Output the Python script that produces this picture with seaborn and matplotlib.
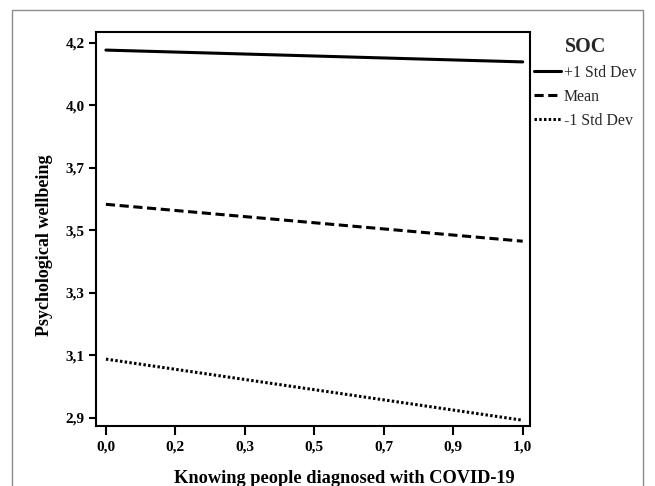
import numpy as np
import pandas as pd
import matplotlib
matplotlib.use("Agg")
import matplotlib.pyplot as plt
import seaborn as sns
from matplotlib.patches import Rectangle

# values (y in axis units, ticks evenly spaced 2.9 .. 4.2)
knowing = [0.0, 1.0]
soc_levels = ["+1 Std Dev", "Mean", "-1 Std Dev"]
wellbeing_plus = [4.175, 4.134]
wellbeing_mean = [3.640, 3.512]
wellbeing_minus = [3.103, 2.891]

x_tick_labels = ["0,0", "0,2", "0,3", "0,5", "0,7", "0,9", "1,0"]
y_tick_labels = ["2,9", "3,1", "3,3", "3,5", "3,7", "4,0", "4,2"]

df = pd.DataFrame({
    "know": knowing * 3,
    "pwb": wellbeing_plus + wellbeing_mean + wellbeing_minus,
    "SOC": [lvl for lvl in soc_levels for _ in knowing],
})

sns.set_theme(style="white")
plt.rcParams["font.family"] = ["Liberation Serif", "DejaVu Serif"]

W, H = 655, 486
fig = plt.figure(figsize=(W / 100, H / 100), dpi=100)
ax = fig.add_axes([95.5 / W, 1 - 426 / H, (530 - 95.5) / W, (426 - 32.5) / H])

sns.lineplot(
    data=df, x="know", y="pwb", style="SOC", style_order=soc_levels,
    dashes={"+1 Std Dev": "", "Mean": (3, 1.5), "-1 Std Dev": (0.8, 0.75)},
    color="black", linewidth=2.2, ax=ax,
)

ax.set_xlim(-0.025, 1.0175)
ax.set_ylim(2.871, 4.236)
ax.set_xticks(np.linspace(0, 1, 7), x_tick_labels)
ax.set_yticks(np.linspace(2.9, 4.2, 7), y_tick_labels)
ax.tick_params(direction="out", width=1.5, labelsize=11,
               color="black", labelcolor="black", bottom=True, left=True)
ax.tick_params(axis="x", length=6.5, pad=4)
ax.tick_params(axis="y", length=5, pad=3)
for lab in ax.get_xticklabels() + ax.get_yticklabels():
    lab.set_fontweight("bold")
    lab.set_fontsize(11)
for sp in ax.spines.values():
    sp.set_color("black")
    sp.set_linewidth(1.5)

ax.set_xlabel("Knowing people diagnosed with COVID-19", fontsize=13.2,
              fontweight="bold", color="black")
ax.set_ylabel("Psychological wellbeing", fontsize=13, fontweight="bold",
              color="black")
ax.xaxis.set_label_coords(0.572, -0.112)
ax.yaxis.set_label_coords(-0.098, 0.459)

sns.move_legend(
    ax, "upper left", bbox_to_anchor=(526 / W, 1 - 29 / H),
    bbox_transform=fig.transFigure, frameon=False, title="SOC",
    fontsize=11.4, borderpad=0, handlelength=1.7, handletextpad=0.2,
    labelspacing=0.5,
)
leg = ax.get_legend()
leg.get_title().set_fontweight("bold")
leg.get_title().set_fontsize(14.5)
for h in leg.legend_handles:
    h.set_color("black")
    h.set_linewidth(2.2)

fig.patches.append(Rectangle((12 / W, -0.05), (643 - 12) / W, 1 - 10 / H + 0.05,
                             transform=fig.transFigure, fill=False,
                             edgecolor="#8c8c8c", linewidth=1))

fig.savefig("out.png", dpi=100)
